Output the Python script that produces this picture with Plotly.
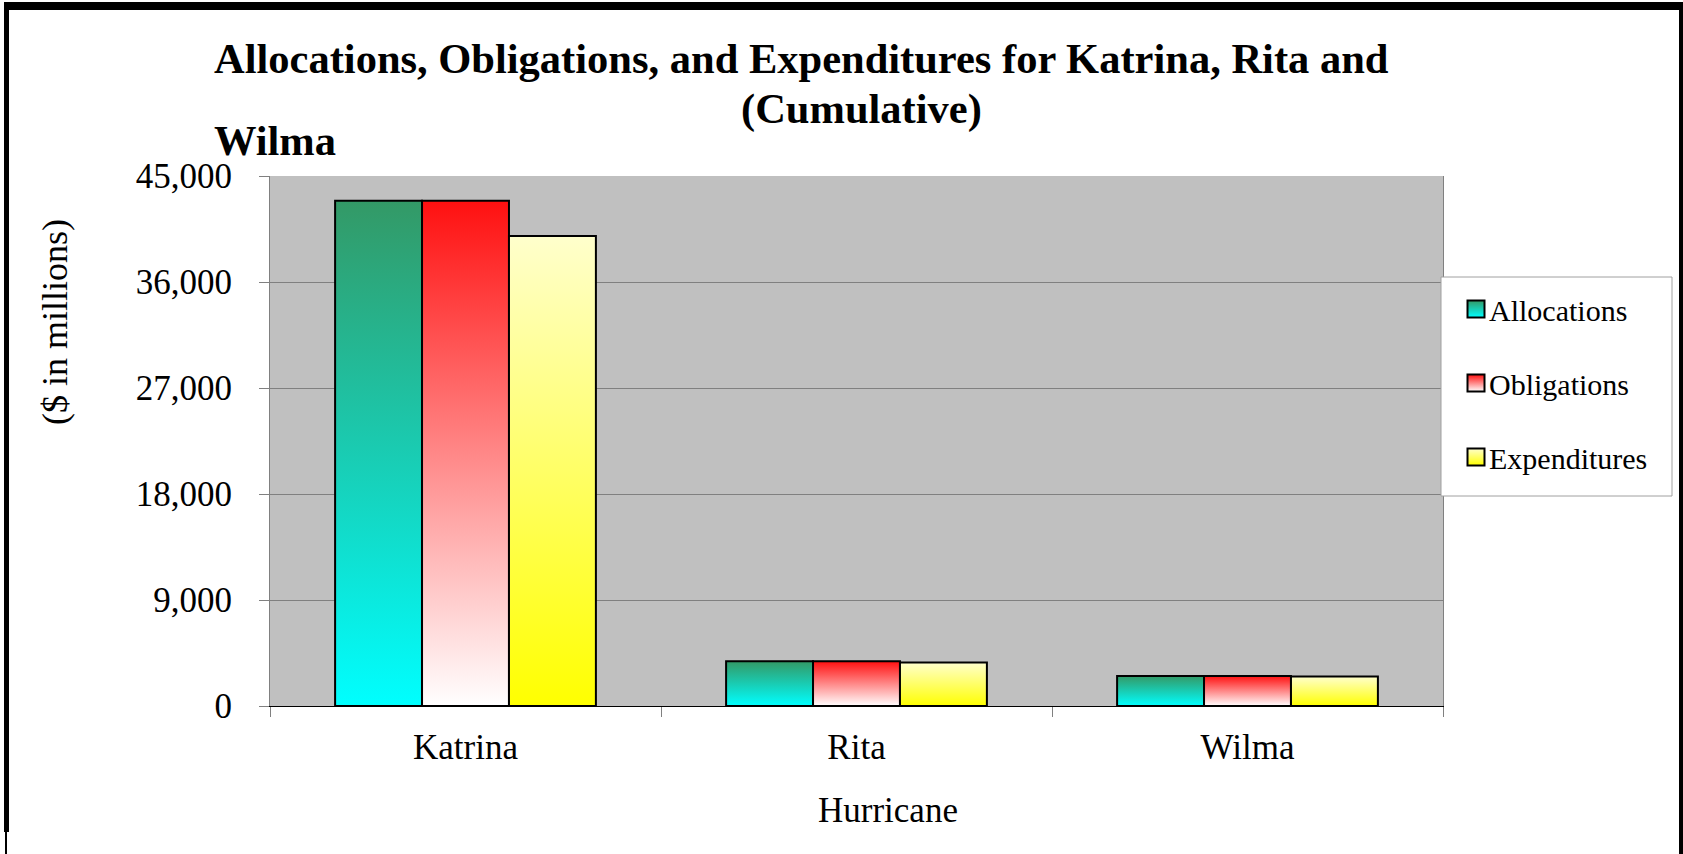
import plotly.graph_objects as go

hurricanes = ["Katrina", "Rita", "Wilma"]
allocations = [42900, 3800, 2550]
obligations = [42900, 3800, 2550]
expenditures = [39900, 3700, 2500]
series_names = ["Allocations", "Obligations", "Expenditures"]
y_ticks = [0, 9000, 18000, 27000, 36000, 45000]

W, H = 1683, 854
L, R, T, B = 270, 1443, 176, 706   # plot area in px
PW, PH = R - L, B - T

def px(x):
    return (x - L) / PW

def py(y):
    return (B - y) / PH

FONT = "Liberation Serif, Times New Roman, serif"

fig = go.Figure()
for name, vals, col in zip(series_names, [allocations, obligations, expenditures],
                           ["#1ACCB2", "#FF8080", "#FFFF66"]):
    fig.add_trace(go.Bar(
        x=hurricanes, y=vals, name=name, legendgroup=name,
        marker=dict(color=col, line=dict(color="black", width=2)),
    ))

fig.update_layout(
    width=W, height=H,
    margin=dict(l=L, r=W - R, t=T, b=H - B, pad=0),
    paper_bgcolor="white", plot_bgcolor="#C0C0C0",
    barmode="group", bargap=0.333, bargroupgap=0,
    font=dict(family=FONT, color="black", size=35),
    showlegend=True,
    legend=dict(
        x=px(1449), y=py(283), xanchor="left", yanchor="top",
        bgcolor="rgba(0,0,0,0)", borderwidth=0,
        font=dict(family=FONT, size=30, color="black"),
        tracegroupgap=32, traceorder="grouped",
    ),
    xaxis=dict(
        showgrid=False, showline=True, linecolor="black", linewidth=1,
        ticks="outside", ticklen=10, tickcolor="#808080", tickson="boundaries",
        tickfont=dict(family=FONT, size=35), ticklabelstandoff=10,
    ),
    yaxis=dict(
        range=[0, 45000], tickvals=y_ticks, tickformat=",",
        showgrid=True, gridcolor="#808080", gridwidth=1,
        showline=True, linecolor="#808080", linewidth=1, mirror=True,
        ticks="outside", ticklen=10, tickcolor="#808080",
        tickfont=dict(family=FONT, size=35), ticklabelstandoff=20,
        zeroline=False,
    ),
)

# legend box
fig.add_shape(type="rect", xref="paper", yref="paper",
              x0=px(1441), x1=px(1672), y0=py(496), y1=py(277),
              fillcolor="white", line=dict(color="#A0A0A0", width=1), layer="above")

ann = [
    dict(text="<b>Allocations, Obligations, and Expenditures for Katrina, Rita and</b>",
         x=px(801), y=py(58), font=dict(size=42.5)),
    dict(text="<b>(Cumulative)</b>", x=px(861), y=py(109), font=dict(size=42.5)),
    dict(text="<b>Wilma</b>", x=px(212), y=py(140), xanchor="left", font=dict(size=42.5)),
    dict(text="($ in millions)", x=px(55), y=py(322), textangle=-90, font=dict(size=36)),
    dict(text="Hurricane", x=px(888), y=py(810), font=dict(size=35)),
]
for a in ann:
    a.setdefault("xanchor", "center")
    a.update(xref="paper", yref="paper", yanchor="middle", showarrow=False)
    a["font"] = dict(family=FONT, color="black", size=a["font"]["size"])
    fig.add_annotation(**a)

# outer black frame
frame = [
    (4, 2, 1683, 10),     # top band
    (4, 2, 9, 832),       # left
    (5, 832, 7, 854),     # left tail
    (1679, 2, 1683, 854), # right
]
for x0, y0, x1, y1 in frame:
    fig.add_shape(type="rect", xref="paper", yref="paper",
                  x0=px(x0), x1=px(x1), y0=py(y1), y1=py(y0),
                  fillcolor="black", line=dict(width=0), layer="above")

post = """
document.body.style.margin = '0';
document.body.style.overflow = 'hidden';
var gd = document.getElementById('{plot_id}');
var NS = 'http://www.w3.org/2000/svg';
var svg = gd.querySelector('svg.main-svg');
var defs = svg.querySelector('defs');
if (!defs) { defs = document.createElementNS(NS, 'defs'); svg.insertBefore(defs, svg.firstChild); }
var grads = [['gA','#339966','#00FFFF'],['gO','#FF1010','#FFFFFF'],['gE','#FFFFCC','#FFFF00']];
grads.forEach(function(g){
  var lg = document.createElementNS(NS, 'linearGradient');
  lg.setAttribute('id', g[0]);
  lg.setAttribute('x1','0'); lg.setAttribute('y1','0'); lg.setAttribute('x2','0'); lg.setAttribute('y2','1');
  var s1 = document.createElementNS(NS, 'stop'); s1.setAttribute('offset','0'); s1.setAttribute('stop-color', g[1]);
  var s2 = document.createElementNS(NS, 'stop'); s2.setAttribute('offset','1'); s2.setAttribute('stop-color', g[2]);
  lg.appendChild(s1); lg.appendChild(s2); defs.appendChild(lg);
});
gd.querySelectorAll('.barlayer .trace').forEach(function(t, i){
  t.querySelectorAll('path').forEach(function(p){ p.style.fill = 'url(#' + grads[i][0] + ')'; });
});
gd.querySelectorAll('.legend .traces').forEach(function(t, i){
  var p = t.querySelector('.legendpoints path');
  if (p) { p.style.fill = 'url(#' + grads[i][0] + ')'; p.setAttribute('d', 'M15.5,8.5H-1.5V-8.5H15.5Z'); }
});
"""

fig.write_html("out.html", config=dict(displayModeBar=False), post_script=post)
